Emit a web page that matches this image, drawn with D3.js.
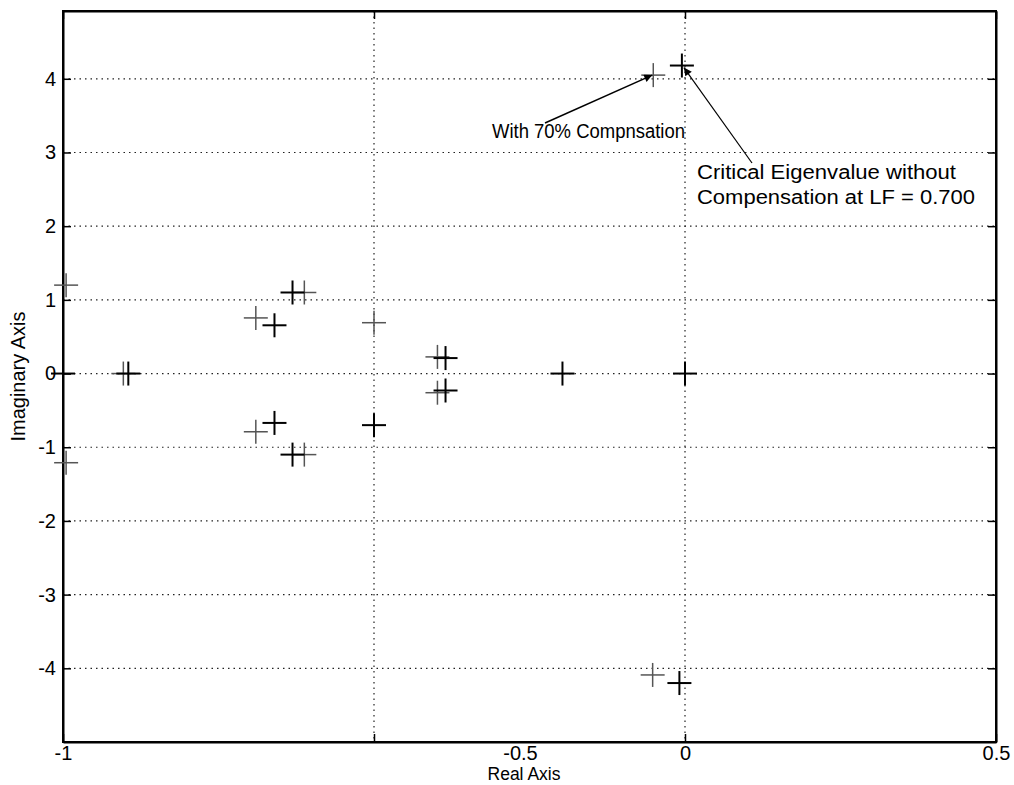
<!DOCTYPE html>
<html>
<head>
<meta charset="utf-8">
<script src="https://cdn.jsdelivr.net/npm/d3@7"></script>
<style>
  body { margin: 0; background: #fff; }
  svg { display: block; font-family: "Liberation Sans", Arial, sans-serif; }
</style>
</head>
<body>
<svg id="chart" width="1014" height="785"></svg>
<script>
// Eigenvalues (real, imaginary) of the system
const eigBold = [
  [-0.005, 4.18], [-0.009, -4.20], [0.0, 0.0], [-0.197, 0.0],
  [-0.50, -0.70], [-0.66, 0.655], [-0.66, -0.67], [-0.631, 1.10],
  [-0.631, -1.10], [-0.385, 0.21], [-0.385, -0.23], [-0.895, 0.0],
  [-1.0, 0.0]
];
const eigLight = [
  [-0.051, 4.05], [-0.052, -4.09], [-0.50, 0.69], [-0.69, 0.755],
  [-0.69, -0.79], [-0.612, 1.10], [-0.612, -1.10], [-0.398, 0.226],
  [-0.398, -0.26], [-0.903, 0.0], [-0.995, 1.20], [-0.995, -1.21]
];
const xTicks = [-1, -0.5, 0, 0.5];
const yTicks = [-4, -3, -2, -1, 0, 1, 2, 3, 4];
const xDomain = [-1, 0.5];
const yDomain = [-5, 4.92];

const svg = d3.select("#chart");
const L = 63, R = 996, T = 11, B = 742;
const x = d3.scaleLinear().domain(xDomain).range([L, R]);
const y = d3.scaleLinear().domain(yDomain).range([B, T]);
const TFS = 20;

// dotted grid
const grid = svg.append("g").attr("stroke", "#222").attr("stroke-width", 1.2)
  .attr("stroke-dasharray", "1.5,4");
grid.selectAll(".gx").data(xTicks.filter(d => d > xDomain[0] && d < xDomain[1]))
  .join("line").attr("x1", d => x(d)).attr("x2", d => x(d)).attr("y1", T).attr("y2", B);
grid.selectAll(".gy").data(yTicks)
  .join("line").attr("y1", d => y(d)).attr("y2", d => y(d)).attr("x1", L).attr("x2", R);

// axes with inward ticks
const fmt = d => d === 0 ? "0" : String(d);
const xAxis = svg.append("g").attr("transform", `translate(0,${B})`)
  .call(d3.axisBottom(x).tickValues(xTicks).tickSizeInner(-8).tickSizeOuter(0).tickPadding(3.5).tickFormat(fmt));
const xAxisTop = svg.append("g").attr("transform", `translate(0,${T})`)
  .call(d3.axisTop(x).tickValues(xTicks).tickSizeInner(-8).tickSizeOuter(0).tickFormat(""));
const yAxis = svg.append("g").attr("transform", `translate(${L},0)`)
  .call(d3.axisLeft(y).tickValues(yTicks).tickSizeInner(-8).tickSizeOuter(0).tickPadding(7).tickFormat(fmt));
const yAxisR = svg.append("g").attr("transform", `translate(${R},0)`)
  .call(d3.axisRight(y).tickValues(yTicks).tickSizeInner(-8).tickSizeOuter(0).tickFormat(""));
[xAxis, xAxisTop, yAxis, yAxisR].forEach(g => {
  g.attr("font-family", "Liberation Sans, Arial, sans-serif");
  g.selectAll("path").attr("stroke", "#000").attr("stroke-width", 2);
  g.selectAll("line").attr("stroke", "#000").attr("stroke-width", 1.5);
  g.selectAll("text").attr("fill", "#000").style("font-size", TFS + "px");
});
// the printed "-0.5" label sits to the right of its tick, just above the axis title
xAxis.selectAll(".tick text").filter(d => d === -0.5).attr("x", 146);

// frame
svg.append("rect").attr("x", L).attr("y", T).attr("width", R - L).attr("height", B - T)
  .attr("fill", "none").attr("stroke", "#000").attr("stroke-width", 2);

// "+" markers
const h = 12;
function plus(data, color, width) {
  const g = svg.append("g").attr("stroke", color).attr("stroke-width", width);
  const m = g.selectAll("g").data(data).join("g")
    .attr("transform", d => `translate(${x(d[0])},${y(d[1])})`);
  m.append("line").attr("x1", -h).attr("x2", h);
  m.append("line").attr("y1", -h).attr("y2", h);
}
plus(eigLight, "#555", 1.5);
plus(eigBold, "#000", 2);

// axis labels
svg.append("text").attr("x", 524).attr("y", 780).attr("text-anchor", "middle")
  .style("font-size", "17.5px").text("Real Axis");
svg.append("text").attr("transform", `translate(25,${(T + B) / 2}) rotate(-90)`)
  .attr("text-anchor", "middle").style("font-size", "20px").text("Imaginary Axis");

// annotations
svg.append("defs").append("marker").attr("id", "head").attr("viewBox", "0 0 10 10")
  .attr("refX", 10).attr("refY", 5).attr("markerWidth", 14).attr("markerHeight", 8)
  .attr("markerUnits", "userSpaceOnUse").attr("orient", "auto")
  .append("path").attr("d", "M0,0 L10,5 L0,10 Z").attr("fill", "#000");

const compPt = eigLight[0], critPt = eigBold[0];
svg.append("line").attr("x1", 545).attr("y1", 123)
  .attr("x2", x(compPt[0]) - 1).attr("y2", y(compPt[1]))
  .attr("stroke", "#000").attr("stroke-width", 1.5).attr("marker-end", "url(#head)");
svg.append("line").attr("x1", 752).attr("y1", 163)
  .attr("x2", x(critPt[0]) + 2).attr("y2", y(critPt[1]) + 2)
  .attr("stroke", "#000").attr("stroke-width", 1.2).attr("marker-end", "url(#head)");

svg.append("text").attr("x", 492).attr("y", 138).style("font-size", "19.5px")
  .attr("textLength", 193).attr("lengthAdjust", "spacingAndGlyphs").text("With 70% Compnsation");
svg.append("text").attr("x", 697).attr("y", 179).style("font-size", "19.5px")
  .attr("textLength", 259).attr("lengthAdjust", "spacingAndGlyphs").text("Critical Eigenvalue without");
svg.append("text").attr("x", 697).attr("y", 204).style("font-size", "19.5px")
  .attr("textLength", 278).attr("lengthAdjust", "spacingAndGlyphs").text("Compensation at LF = 0.700");
</script>
</body>
</html>
